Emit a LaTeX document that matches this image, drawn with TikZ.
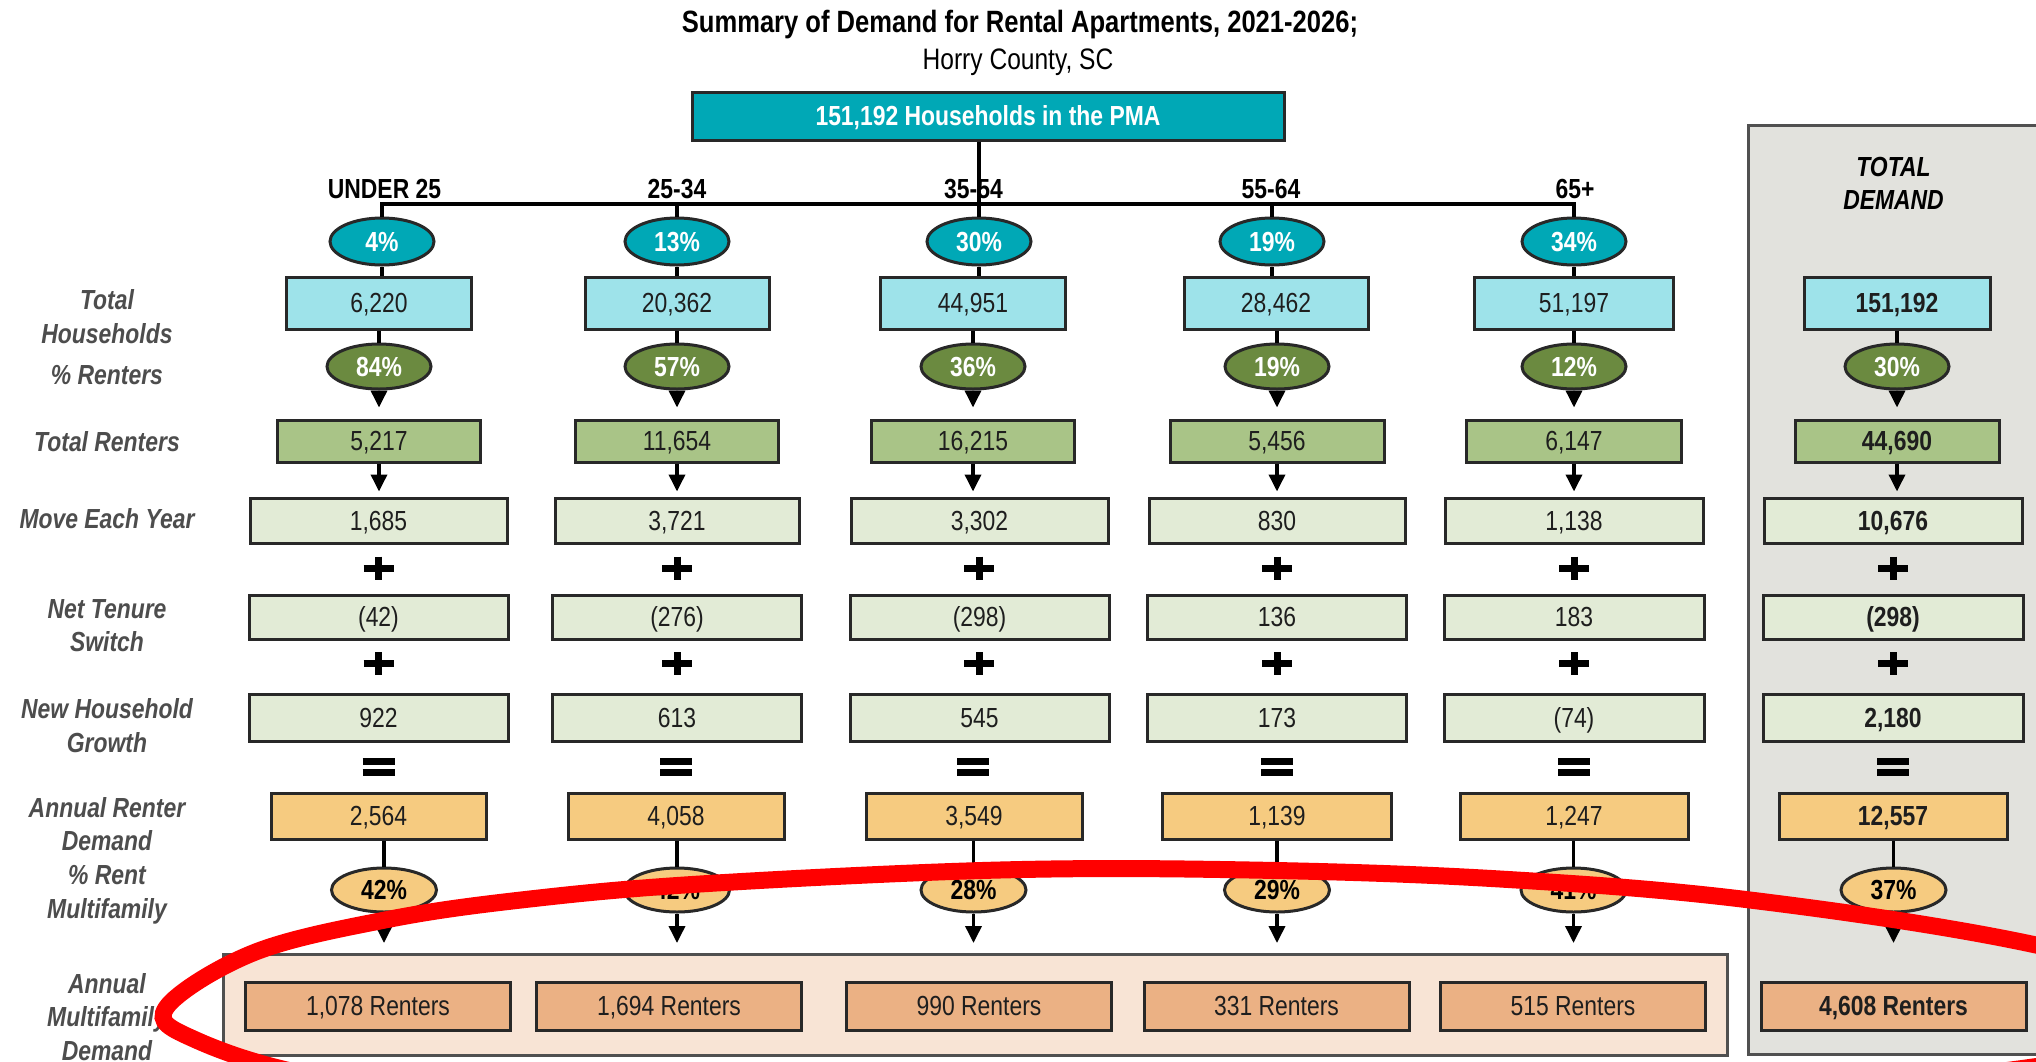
\documentclass[tikz,border=0pt]{standalone}
\usepackage{fontspec}
\setmainfont{Liberation Sans}[FakeStretch=0.83]
\usetikzlibrary{shapes.geometric,arrows.meta}
\definecolor{tealc}{RGB}{0,168,182}
\definecolor{hhc}{RGB}{158,227,234}
\definecolor{olivec}{RGB}{107,138,64}
\definecolor{rentc}{RGB}{169,196,135}
\definecolor{palec}{RGB}{226,235,214}
\definecolor{yelc}{RGB}{246,203,128}
\definecolor{orc}{RGB}{235,177,132}
\definecolor{peachc}{RGB}{248,228,213}
\definecolor{panelc}{RGB}{226,226,221}
\definecolor{edgec}{RGB}{40,40,40}
\definecolor{framec}{RGB}{80,80,80}
\definecolor{lblc}{RGB}{77,77,77}
\definecolor{txtc}{RGB}{30,30,30}
\begin{document}
\begin{tikzpicture}[x=0.5pt,y=-0.5pt,
  fnt/.style={font=\fontsize{13.8}{16.75}\selectfont},
  basetxt/.style={fnt, inner sep=0pt, text height=9.9pt, text depth=0pt, text=txtc},
  bx/.style={basetxt, rectangle, draw=edgec, line width=1.5pt},
  hhbox/.style={bx, fill=hhc, minimum height=26pt},
  rtbox/.style={bx, fill=rentc, minimum height=21pt},
  mvbox/.style={bx, fill=palec, minimum height=22.5pt},
  ntbox/.style={bx, fill=palec, minimum height=22pt},
  ngbox/.style={bx, fill=palec, minimum height=23.5pt},
  arbox/.style={bx, fill=yelc, minimum height=23pt},
  frbox/.style={bx, fill=orc, minimum height=24pt, minimum width=132.5pt},
  el/.style={basetxt, ellipse, draw=edgec, line width=1.5pt, minimum width=52pt,
    font=\fontsize{13.8}{16}\selectfont\bfseries},
  tel/.style={el, fill=tealc, minimum height=23.5pt, text=white},
  gel/.style={el, fill=olivec, minimum height=22.5pt, text=white},
  yel/.style={el, fill=yelc, minimum height=22pt, minimum width=52.5pt, text=black},
  tot/.style={font=\fontsize{13.8}{16}\selectfont\bfseries},
  lbl/.style={font=\fontsize{13.8}{16.75}\selectfont\bfseries\itshape, text=lblc, align=center, inner sep=0pt},
  age/.style={basetxt, font=\fontsize{13.8}{16}\selectfont\bfseries, text=black},
  ln/.style={line width=1.8pt, draw=black},
  arr/.style={ln, -{Triangle[width=8pt,length=8.5pt]}},
  sym/.style={line width=3.5pt, draw=black}
]
\useasboundingbox (0,0) rectangle (2036,1061);
\begin{scope}
\clip (0,0) rectangle (2036,1061);
\fill[white] (0,0) rectangle (2036,1061);

% panels
\node[draw=framec, line width=1.5pt, fill=panelc, minimum width=156pt, minimum height=464.5pt, inner sep=0pt] (panel) at (1904,589.5) {};
\node[draw=framec, line width=1.5pt, fill=peachc, minimum width=752pt, minimum height=50.5pt, inner sep=0pt] (mf) at (975,1004.5) {};

% title
\node[font=\fontsize{15.4}{18}\selectfont\bfseries, inner sep=0pt, text height=11pt, text depth=0pt] (title) at (1020,21) {Summary of Demand for Rental Apartments, 2021-2026;};
\node[font=\fontsize{14.8}{18}\selectfont, inner sep=0pt, text height=10.6pt, text depth=0pt] (sub) at (1018,58.5) {Horry County, SC};
\node[bx, fill=tealc, minimum width=296pt, minimum height=24pt, text=white, font=\fontsize{13.8}{16}\selectfont\bfseries] (pma) at (988,116) {151,192 Households in the PMA};

% age labels
\node[age] (a1l) at (384.5,189) {UNDER 25};
\node[age] (a2l) at (677,189) {25-34};
\node[age] (a3l) at (973.5,189) {35-54};
\node[age] (a4l) at (1271,189) {55-64};
\node[age] (a5l) at (1575,189) {65+};
\node[lbl, text=black] (td) at (1893.5,183.5) {TOTAL\\DEMAND};

% row labels
\node[lbl] (L1) at (107,316.5) {Total\\Households};
\node[lbl] (L2) at (107,375) {\% Renters};
\node[lbl] (L3) at (107,442) {Total Renters};
\node[lbl] (L4) at (107,519) {Move Each Year};
\node[lbl] (L5) at (107,625.5) {Net Tenure\\Switch};
\node[lbl] (L6) at (107,725.5) {New Household\\Growth};
\node[lbl] (L7) at (107,824) {Annual Renter\\Demand};
\node[lbl] (L8) at (107,895) {\% Rent\\Multifamily};
\node[lbl] (L9) at (107,1017) {Annual\\Multifamily\\Demand};

% teal ellipses
\node[tel] (t1) at (382,241.5) {4\%};
\node[tel] (t2) at (677,241.5) {13\%};
\node[tel] (t3) at (979,241.5) {30\%};
\node[tel] (t4) at (1272,241.5) {19\%};
\node[tel] (t5) at (1574,241.5) {34\%};

% households
\node[hhbox, minimum width=92.5pt] (h1) at (379,303) {6,220};
\node[hhbox, minimum width=92pt] (h2) at (677,303) {20,362};
\node[hhbox, minimum width=92.5pt] (h3) at (973,303) {44,951};
\node[hhbox, minimum width=92pt] (h4) at (1276,303) {28,462};
\node[hhbox, minimum width=99.5pt] (h5) at (1574,303) {51,197};
\node[hhbox, minimum width=93pt, tot] (h6) at (1897,303) {151,192};

% % renters ellipses
\node[gel] (g1) at (379,366.5) {84\%};
\node[gel] (g2) at (677,366.5) {57\%};
\node[gel] (g3) at (973,366.5) {36\%};
\node[gel] (g4) at (1277,366.5) {19\%};
\node[gel] (g5) at (1574,366.5) {12\%};
\node[gel] (g6) at (1897,366.5) {30\%};

% total renters
\node[rtbox, minimum width=101.5pt] (r1) at (379,441) {5,217};
\node[rtbox, minimum width=101.5pt] (r2) at (677,441) {11,654};
\node[rtbox, minimum width=101.5pt] (r3) at (973,441) {16,215};
\node[rtbox, minimum width=107pt] (r4) at (1277,441) {5,456};
\node[rtbox, minimum width=107.5pt] (r5) at (1574,441) {6,147};
\node[rtbox, minimum width=102pt, tot] (r6) at (1897,441) {44,690};

% move each year
\node[mvbox, minimum width=128.5pt] (m1) at (378.5,520.5) {1,685};
\node[mvbox, minimum width=122pt] (m2) at (677,520.5) {3,721};
\node[mvbox, minimum width=128.5pt] (m3) at (979.5,520.5) {3,302};
\node[mvbox, minimum width=128pt] (m4) at (1277,520.5) {830};
\node[mvbox, minimum width=129pt] (m5) at (1574,520.5) {1,138};
\node[mvbox, minimum width=129pt, tot] (m6) at (1893,520.5) {10,676};

% net tenure switch
\node[ntbox, minimum width=129.5pt] (n1) at (378.5,617) {(42)};
\node[ntbox, minimum width=124.5pt] (n2) at (677,617) {(276)};
\node[ntbox, minimum width=129.5pt] (n3) at (979.5,617) {(298)};
\node[ntbox, minimum width=129.75pt] (n4) at (1277,617) {136};
\node[ntbox, minimum width=130pt] (n5) at (1574,617) {183};
\node[ntbox, minimum width=130pt, tot] (n6) at (1893,617) {(298)};

% new household growth
\node[ngbox, minimum width=129.5pt] (w1) at (378.5,717.5) {922};
\node[ngbox, minimum width=124.5pt] (w2) at (677,717.5) {613};
\node[ngbox, minimum width=129.5pt] (w3) at (979.5,717.5) {545};
\node[ngbox, minimum width=129.75pt] (w4) at (1277,717.5) {173};
\node[ngbox, minimum width=130pt] (w5) at (1574,717.5) {(74)};
\node[ngbox, minimum width=130pt, tot] (w6) at (1893,717.5) {2,180};

% annual renter demand
\node[arbox, minimum width=107.5pt] (d1) at (378.5,816) {2,564};
\node[arbox, minimum width=108pt] (d2) at (676,816) {4,058};
\node[arbox, minimum width=108pt] (d3) at (974,816) {3,549};
\node[arbox, minimum width=114.5pt] (d4) at (1277,816) {1,139};
\node[arbox, minimum width=114pt] (d5) at (1574,816) {1,247};
\node[arbox, minimum width=114pt, tot] (d6) at (1893,816) {12,557};

% % multifamily ellipses
\node[yel] (y1) at (384,890) {42\%};
\node[yel] (y2) at (677,890) {42\%};
\node[yel] (y3) at (973.5,890) {28\%};
\node[yel] (y4) at (1277,890) {29\%};
\node[yel] (y5) at (1573.5,890) {41\%};
\node[yel] (y6) at (1893.5,890) {37\%};

% annual multifamily demand
\node[frbox] (f1) at (378,1006) {1,078 Renters};
\node[frbox] (f2) at (669,1006) {1,694 Renters};
\node[frbox] (f3) at (979,1006) {990 Renters};
\node[frbox] (f4) at (1276.5,1006) {331 Renters};
\node[frbox] (f5) at (1573,1006) {515 Renters};
\node[frbox, tot] (f6) at (1893.5,1006) {4,608 Renters};

% tree
\coordinate (hub) at (979,204);
\coordinate (tiprow) at (0,943);
\draw[ln] (pma.south -| hub) -- (hub);
\draw[ln] (t1.north) -- (t1.north |- hub) -- (t5.north |- hub) -- (t5.north);
\foreach \k in {2,3,4} \draw[ln] (t\k.north) -- (t\k.north |- hub);
\foreach \k in {1,...,5} \draw[ln] (t\k.south) -- (t\k.south |- h\k.north);
\foreach \k in {1,...,6} {
  \draw[ln] (g\k.north |- h\k.south) -- (g\k.north);
  \draw[arr, shorten >=5.5pt] (g\k.south) -- (g\k.south |- r\k.north);
  \draw[arr, shorten >=2.5pt] (r\k.south) -- (r\k.south |- m\k.north);
  \draw[ln] (y\k.north |- d\k.south) -- (y\k.north);
  \draw[arr] (y\k.south) -- (y\k.south |- tiprow);
}

% plus and equals signs
\foreach \x in {378.5,677,979,1277,1574,1893} {
  \draw[sym] (\x-15,568) -- (\x+15,568) (\x,556.5) -- (\x,579.5);
  \draw[sym] (\x-15,663.5) -- (\x+15,663.5) (\x,652) -- (\x,675);
}
\foreach \x in {378.5,676,973,1277,1574,1893} {
  \draw[sym] (\x-16,761.5) -- (\x+16,761.5) (\x-16,772.5) -- (\x+16,772.5);
}

% red annotation
\draw[red, line width=8.5pt] plot[smooth cycle, tension=0.6] coordinates {
  (166,1008) (253,953) (385,920) (521,900) (700,884) (1000,870) (1250,870)
  (1500,879) (1750,900) (2036,945) (2260,1010) (2040,1066) (1600,1105)
  (1000,1120) (550,1105) (320,1077) (196,1040)};
\end{scope}
\end{tikzpicture}
\end{document}
